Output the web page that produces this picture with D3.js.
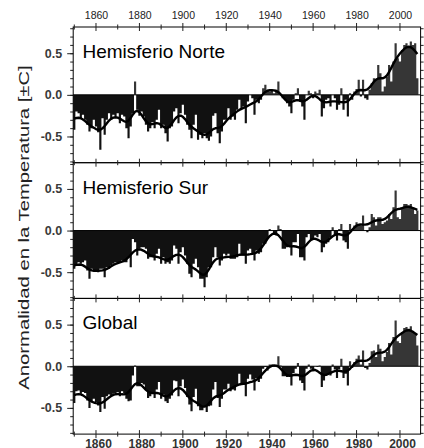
<!DOCTYPE html>
<html>
<head>
<meta charset="utf-8">
<script src="https://cdn.jsdelivr.net/npm/d3@7"></script>
<style>
  html, body { margin: 0; padding: 0; background: #fff; }
  svg { display: block; font-family: "Liberation Sans", Arial, sans-serif; }
</style>
</head>
<body>
<svg id="chart" width="424" height="448"></svg>
<script>
// annual anomalies, 1850-2008
const years = d3.range(1850, 2009);

const nh = [
  -0.42,-0.20,-0.22,-0.28,-0.24,-0.30,-0.36,-0.44,-0.40,-0.30,
  -0.38,-0.45,-0.66,-0.28,-0.48,-0.30,-0.22,-0.30,-0.24,-0.26,
  -0.22,-0.34,-0.24,-0.26,-0.40,-0.52,-0.38,-0.22, 0.16,-0.18,
  -0.25,-0.20,-0.26,-0.36,-0.44,-0.40,-0.33,-0.40,-0.30,-0.18,
  -0.40,-0.36,-0.46,-0.56,-0.40,-0.38,-0.20,-0.16,-0.34,-0.22,
  -0.12,-0.24,-0.36,-0.42,-0.52,-0.36,-0.24,-0.54,-0.48,-0.52,
  -0.46,-0.52,-0.55,-0.50,-0.25,-0.22,-0.46,-0.58,-0.44,-0.30,
  -0.30,-0.16,-0.30,-0.26,-0.30,-0.18,-0.06,-0.16,-0.14,-0.34,
  -0.08, 0.00,-0.04,-0.24,-0.06,-0.10,-0.06, 0.08, 0.12, 0.06,
   0.04, 0.06, 0.02, 0.06, 0.16, 0.00,-0.04,-0.06,-0.10,-0.14,
  -0.22,-0.06, 0.02, 0.08,-0.08,-0.14,-0.30, 0.00, 0.05, 0.02,
  -0.04, 0.04, 0.02, 0.06,-0.26,-0.16,-0.06,-0.04,-0.14, 0.00,
  -0.04,-0.18,-0.12, 0.08,-0.18,-0.06,-0.26, 0.02,-0.06, 0.04,
   0.07, 0.18,-0.02, 0.18,-0.04,-0.06, 0.06, 0.14, 0.20, 0.18,
   0.36, 0.26, 0.04, 0.10, 0.22, 0.36, 0.16, 0.40, 0.62, 0.44,
   0.40, 0.54, 0.60, 0.62, 0.58, 0.64, 0.60, 0.62, 0.20
];

const sh = [
  -0.46,-0.42,-0.38,-0.40,-0.38,-0.36,-0.48,-0.58,-0.46,-0.48,
  -0.48,-0.50,-0.46,-0.46,-0.56,-0.44,-0.46,-0.42,-0.40,-0.38,
  -0.40,-0.38,-0.36,-0.38,-0.38,-0.32,-0.44,-0.10,-0.14,-0.30,
  -0.22,-0.20,-0.20,-0.22,-0.34,-0.32,-0.32,-0.36,-0.28,-0.22,
  -0.40,-0.32,-0.40,-0.38,-0.40,-0.36,-0.18,-0.22,-0.40,-0.26,
  -0.20,-0.30,-0.40,-0.52,-0.56,-0.40,-0.34,-0.44,-0.58,-0.58,
  -0.68,-0.56,-0.44,-0.44,-0.32,-0.20,-0.32,-0.42,-0.36,-0.28,
  -0.30,-0.28,-0.34,-0.34,-0.34,-0.32,-0.16,-0.30,-0.30,-0.40,
  -0.24,-0.22,-0.28,-0.36,-0.24,-0.28,-0.26,-0.16,-0.16,-0.10,
   0.02, 0.00,-0.04,-0.06, 0.06, 0.02,-0.22,-0.22,-0.20,-0.18,
  -0.30,-0.14,-0.14,-0.04,-0.32,-0.32,-0.36,-0.08,-0.04,-0.10,
  -0.10,-0.06,-0.08,-0.04,-0.26,-0.20,-0.16,-0.14,-0.08, 0.04,
  -0.06,-0.12, 0.02, 0.08,-0.12,-0.14,-0.22, 0.08, 0.02, 0.06,
   0.10, 0.08, 0.06, 0.18, 0.00,-0.02, 0.04, 0.20, 0.16, 0.06,
   0.16, 0.16, 0.08, 0.10, 0.12, 0.20, 0.14, 0.28, 0.48, 0.16,
   0.14, 0.28, 0.32, 0.32, 0.30, 0.32, 0.26, 0.20, 0.24
];

const gl = [
  -0.44,-0.30,-0.29,-0.33,-0.31,-0.32,-0.41,-0.50,-0.43,-0.39,
  -0.43,-0.47,-0.55,-0.37,-0.51,-0.36,-0.34,-0.36,-0.33,-0.32,
  -0.31,-0.36,-0.30,-0.32,-0.39,-0.42,-0.41,-0.11, 0.01,-0.24,
  -0.24,-0.20,-0.22,-0.28,-0.38,-0.36,-0.32,-0.38,-0.28,-0.19,
  -0.39,-0.34,-0.42,-0.44,-0.39,-0.35,-0.17,-0.18,-0.36,-0.24,
  -0.16,-0.26,-0.37,-0.46,-0.54,-0.37,-0.27,-0.48,-0.53,-0.53,
  -0.49,-0.55,-0.48,-0.47,-0.28,-0.19,-0.38,-0.49,-0.39,-0.28,
  -0.28,-0.21,-0.30,-0.28,-0.29,-0.23,-0.09,-0.21,-0.22,-0.36,
  -0.15,-0.10,-0.16,-0.29,-0.14,-0.19,-0.15,-0.03,-0.01,-0.05,
   0.02, 0.02, 0.00, 0.01, 0.12, 0.01,-0.12,-0.12,-0.13,-0.12,
  -0.23,-0.08,-0.03, 0.04,-0.17,-0.20,-0.29,-0.03, 0.02,-0.03,
  -0.06, 0.00,-0.01, 0.01,-0.25,-0.17,-0.10,-0.08,-0.11, 0.02,
  -0.04,-0.14,-0.04, 0.09,-0.14,-0.09,-0.23, 0.06,-0.02, 0.05,
   0.09, 0.13, 0.02, 0.19,-0.02,-0.04, 0.04, 0.18, 0.19, 0.11,
   0.26, 0.21, 0.06, 0.11, 0.17, 0.28, 0.14, 0.35, 0.55, 0.30,
   0.28, 0.41, 0.46, 0.47, 0.45, 0.48, 0.42, 0.40, 0.25
];

const titles = ["Hemisferio Norte", "Hemisferio Sur", "Global"];
const series = [nh, sh, gl];
const yearLabels = [1860, 1880, 1900, 1920, 1940, 1960, 1980, 2000];
const yTicks = [-0.5, 0.0, 0.5];
const yLabel = "Anormalidad en la Temperatura [±C]";

// layout
const plotL = 73.2, plotR = 420.6, plotT = 27, panelH = 135.7;

const svg = d3.select("#chart");

const x = d3.scaleLinear().domain([1849.5, 2009.5]).range([plotL, plotR]);
const y = d3.scaleLinear().domain([-0.815, 0.815]).range([panelH, 0]);

// 21-point binomial smoother, weights renormalised at the ends
function smooth(vals){
    const n = 20;
    const w = [1];
    for(let k = 1; k <= n; k++){ w.push(w[k-1] * (n - k + 1) / k); }
    return vals.map((v, i) => {
        let s = 0, ws = 0;
        for(let k = 0; k <= n; k++){
            const j = i + k - n / 2;
            if(j < 0 || j >= vals.length){ continue; }
            s += w[k] * vals[j];
            ws += w[k];
        }
        return s / ws;
    });
}

const minorY = d3.range(-8, 9).map(d => d / 10);

series.forEach((vals, i) => {
    const g = svg.append("g")
        .attr("class", "panel")
        .attr("transform", `translate(0,${plotT + i * panelH})`);

    // annual values as one stepped fill per sign (no seams between years)
    const steps = years.map((yr, j) => [yr - 0.5, vals[j]]);
    steps.push([years[years.length - 1] + 0.5, vals[vals.length - 1]]);

    const negArea = d3.area()
        .curve(d3.curveStepAfter)
        .x(d => x(d[0]))
        .y0(y(0))
        .y1(d => y(Math.min(0, d[1])));
    const posArea = d3.area()
        .curve(d3.curveStepAfter)
        .x(d => x(d[0]))
        .y0(y(0))
        .y1(d => y(Math.max(0, d[1])));

    g.append("path").datum(steps)
        .attr("class", "neg")
        .attr("fill", "#111")
        .attr("d", negArea);
    g.append("path").datum(steps)
        .attr("class", "pos")
        .attr("fill", "#363636")
        .attr("d", posArea);

    // zero line
    g.append("line")
        .attr("x1", plotL).attr("x2", plotR)
        .attr("y1", y(0)).attr("y2", y(0))
        .attr("stroke", "#000").attr("stroke-width", 1);

    // smoothed curve
    const sm = smooth(vals);
    g.append("path")
        .datum(years.map((yr, j) => [yr, sm[j]]))
        .attr("fill", "none")
        .attr("stroke", "#000")
        .attr("stroke-width", 2.4)
        .attr("stroke-linejoin", "round")
        .attr("d", d3.line().x(d => x(d[0])).y(d => y(d[1])));

    // left axis: minor + major
    g.append("g")
        .attr("transform", `translate(${plotL},0)`)
        .call(d3.axisLeft(y).tickValues(minorY).tickSize(3).tickFormat(""))
        .call(a => a.select(".domain").remove())
        .call(a => a.selectAll("line").attr("stroke", "#222"));

    g.append("g")
        .attr("transform", `translate(${plotL},0)`)
        .attr("font-size", 12.5)
        .call(d3.axisLeft(y).tickValues(yTicks).tickSize(6).tickPadding(5).tickFormat(d => d.toFixed(1)))
        .call(a => a.select(".domain").remove())
        .call(a => a.selectAll("line").attr("stroke", "#222"))
        .call(a => a.selectAll("text")
            .style("font-size", "12.5px")
            .style("font-weight", "bold")
            .style("font-family", "'Liberation Sans', Arial, sans-serif")
            .attr("fill", "#3a3a3a"));

    // right side ticks
    g.append("g")
        .attr("transform", `translate(${plotR},0)`)
        .call(d3.axisRight(y).tickValues(minorY).tickSize(3).tickFormat(""))
        .call(a => a.select(".domain").remove())
        .call(a => a.selectAll("line").attr("stroke", "#222"));

    // frame
    g.append("rect")
        .attr("x", plotL).attr("y", 0)
        .attr("width", plotR - plotL).attr("height", panelH)
        .attr("fill", "none").attr("stroke", "#000").attr("stroke-width", 1);

    // title
    g.append("text")
        .attr("x", 82.5)
        .attr("y", 31)
        .attr("font-size", 19)
        .attr("fill", "#000")
        .text(titles[i]);
});

// year ticks crossing every panel boundary
const decadeTicks = d3.range(1850, 2001, 10);
[0, 1, 2, 3].forEach(k => {
    const yy = plotT + k * panelH;
    svg.append("g").attr("class", "xticks")
        .selectAll("line")
        .data(decadeTicks)
        .enter()
        .append("line")
            .attr("x1", d => x(d)).attr("x2", d => x(d))
            .attr("y1", d => yy - (d % 20 === 0 ? 4 : 2.5))
            .attr("y2", d => yy + (d % 20 === 0 ? 4 : 2.5))
            .attr("stroke", "#222").attr("stroke-width", 1);
});

// top year labels
svg.append("g")
    .attr("transform", `translate(0,${plotT})`)
    .call(d3.axisTop(x).tickValues(yearLabels).tickSize(0).tickPadding(8).tickFormat(d3.format("d")))
    .call(a => a.select(".domain").remove())
    .call(a => a.selectAll("text")
        .style("font-size", "10.5px")
        .style("font-family", "'Liberation Sans', Arial, sans-serif")
        .attr("fill", "#222"));

// bottom year labels (partly cut by the page edge, as in the original)
svg.append("g")
    .attr("transform", `translate(0,${plotT + 3 * panelH})`)
    .call(d3.axisBottom(x).tickValues(yearLabels).tickSize(0).tickPadding(5).tickFormat(d3.format("d")))
    .call(a => a.select(".domain").remove())
    .call(a => a.selectAll("text")
        .attr("dx", 2)
        .style("font-size", "12px")
        .style("font-weight", "bold")
        .style("font-family", "'Liberation Sans', Arial, sans-serif")
        .attr("fill", "#333"));

// y label, stretched along its length like the original
svg.append("text")
    .attr("transform", "translate(28.5,227.5) rotate(-90) scale(1.35,1)")
    .attr("text-anchor", "middle")
    .attr("font-size", 15)
    .attr("fill", "#222")
    .text(yLabel);
</script>
</body>
</html>
